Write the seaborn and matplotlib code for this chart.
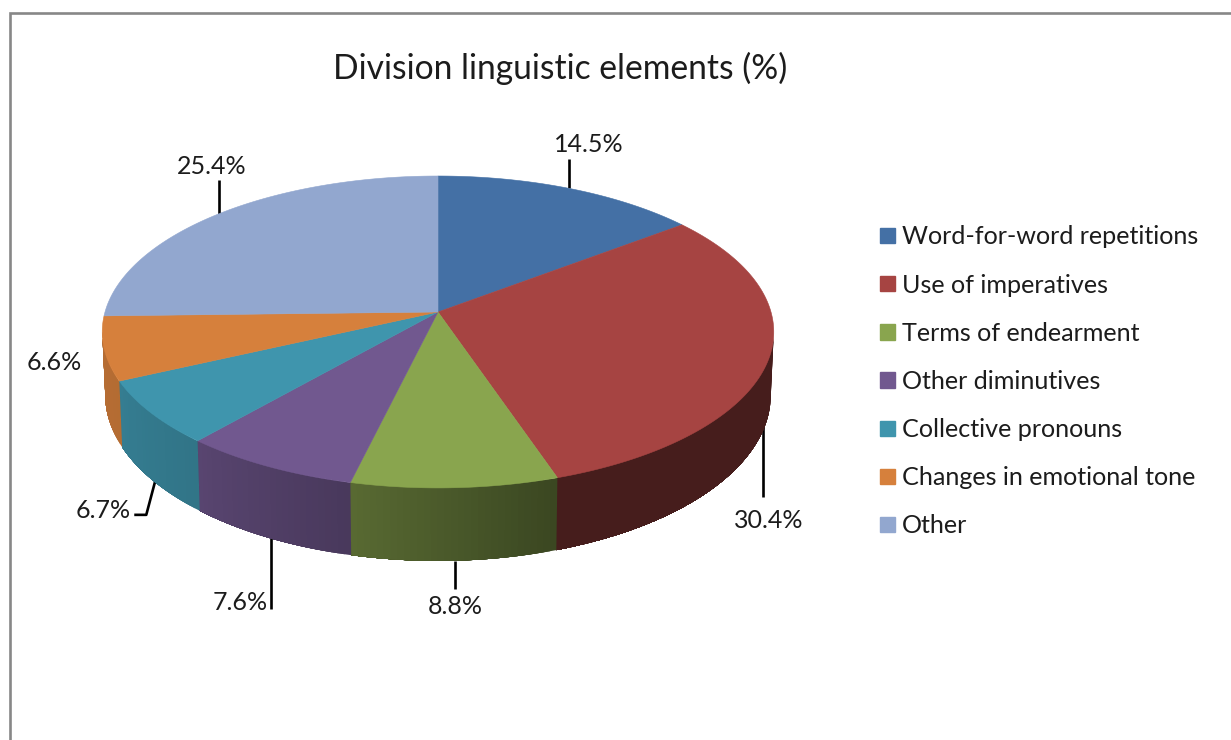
import numpy as np
import matplotlib
matplotlib.use("Agg")
import matplotlib.pyplot as plt
from matplotlib.collections import PolyCollection
from matplotlib.patches import Patch
import seaborn as sns

# ---- data ----
categories = ["Word-for-word repetitions", "Use of imperatives", "Terms of endearment",
              "Other diminutives", "Collective pronouns", "Changes in emotional tone", "Other"]
values = [14.5, 30.4, 8.8, 7.6, 6.7, 6.6, 25.4]
value_labels = ["14.5%", "30.4%", "8.8%", "7.6%", "6.7%", "6.6%", "25.4%"]
colors = ["#4470a5", "#a64442", "#89a54e", "#71588f", "#3f95ad", "#d6803c", "#92a7cf"]
title = "Division linguistic elements (%)"

# ---- layout (pixels) ----
W, H = 1231, 740
CX, CY = 438, 312
A, B, K = 333.0, 153.4, 0.128
label_pos = [(589, 144), (769, 520), (455, 607), (240, 602), (103, 511), (54, 362), (212, 166)]
# leader: rim used, shift of the anchor, then offsets from the anchor
leaders = [("top", (0, 0), [(0, -29)]), ("bot", (-3, 0), [(0, 74)]), ("bot", (0, 0), [(0, 28)]),
           ("bot", (2, 0), [(0, 71)]), ("bot", (2, 0), [(-9, 34), (-21, 34)]), None,
           ("top", (0, 0), [(0, -34)])]

sns.set_theme(style="white")
plt.rcParams["font.family"] = ["Lato", "DejaVu Sans"]
TXT = "#1c1c1c"
LABEL_FS = 18.0

def top_rim(theta):
    t = np.radians(theta)
    u, v = np.sin(t), np.cos(t)
    d = 1 + K * v
    return CX + A * u / d, CY - B * v / d

def bot_rim(theta):
    x, y = top_rim(theta)
    return CX + (333 / 336) * (x - CX), 395 + (166 / 156) * (y - 332)

def shade(theta):
    return np.interp(theta, [0, 161, 193, 220, 245, 270], [.42, .42, .64, .78, .84, .86])

fig = plt.figure(figsize=(W / 100, H / 100), dpi=100, facecolor="white")
ax = fig.add_axes([0, 0, 1, 1])
ax.set_xlim(0, W)
ax.set_ylim(H, 0)
ax.axis("off")

palette = sns.color_palette(colors)
edges = np.concatenate([[0], np.cumsum(values)]) / np.sum(values) * 360

# frame
ax.plot([9.5, 9.5, W + 5], [H + 5, 12.5, 12.5], color="#878787", lw=1.9, solid_joinstyle="miter")

# sides: overlapping strips, each painted over the previous one, so no seams show
lo, hi = 97.4, 262.6
for i, col in enumerate(palette):
    a, b = max(edges[i], lo), min(edges[i + 1], hi)
    if b <= a:
        continue
    th = np.linspace(a, b, max(2, int(b - a) + 1))
    polys, fcs = [], []
    for j, (t0, t1) in enumerate(zip(th[:-1], th[1:])):
        t_end = th[-1]  # every strip runs to the wedge end, later strips paint over it
        arc = np.linspace(t0, t_end, max(2, int(t_end - t0) + 2))
        xt, yt = top_rim(arc)
        xb, yb = bot_rim(arc[::-1])
        polys.append(np.column_stack([np.r_[xt, xb], np.r_[yt, yb]]))
        fcs.append(tuple(np.array(col) * shade((t0 + t1) / 2)))
    ax.add_collection(PolyCollection(polys, facecolors=fcs, edgecolors="none", zorder=2 + i * 0.01))

# top faces
for i, col in enumerate(palette):
    th = np.linspace(edges[i], edges[i + 1], 200)
    x, y = top_rim(th)
    ax.fill(np.r_[CX, x], np.r_[CY, y], facecolor=col, edgecolor=col, lw=0.4, zorder=3)

# leaders and labels
for i, txt in enumerate(value_labels):
    mid = (edges[i] + edges[i + 1]) / 2
    if leaders[i] is not None:
        rim, shift, offs = leaders[i]
        x0, y0 = top_rim(mid) if rim == "top" else bot_rim(mid)
        x0, y0 = x0 + shift[0], y0 + shift[1]
        xs = [x0] + [x0 + o[0] for o in offs]
        ys = [y0] + [y0 + o[1] for o in offs]
        ax.plot(xs, ys, color="black", lw=1.9, zorder=1.5, solid_capstyle="butt", solid_joinstyle="round")
    ax.text(*label_pos[i], txt, ha="center", va="center", fontsize=LABEL_FS, color=TXT, zorder=5)

ax.text(560, 68, title, ha="center", va="center", fontsize=24.2, color=TXT)

handles = [Patch(facecolor=c, edgecolor=c, label=n) for c, n in zip(palette, categories)]
ax.legend(handles=handles, loc="upper left", bbox_to_anchor=(880 / W, 1 - 225.5 / H),
          bbox_transform=ax.transAxes, frameon=False, fontsize=18.1, borderpad=0,
          borderaxespad=0, handlelength=0.6, handleheight=0.56, handletextpad=0.28,
          labelspacing=1.0, labelcolor=TXT)

fig.savefig("out.png", dpi=100, facecolor="white")
